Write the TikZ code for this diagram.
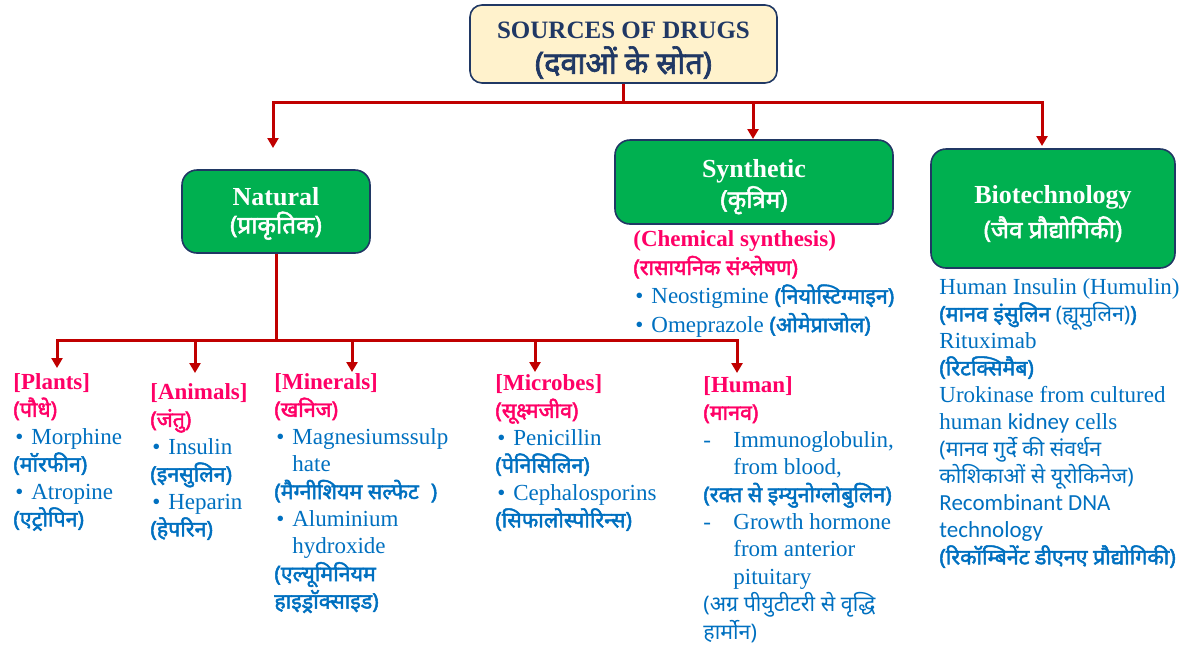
\documentclass[tikz,border=0pt]{standalone}
\usepackage{fontspec}
\setmainfont{Liberation Serif}
\newfontfamily\hin[Script=Devanagari,Scale=0.93]{Noto Sans}
\newfontfamily\hinb[Script=Devanagari,Scale=0.93,FakeBold=2.2]{Noto Sans}
\newfontfamily\calib{Carlito}
\usepackage{tikz}
\usetikzlibrary{arrows.meta}
\definecolor{drred}{HTML}{C00000}
\definecolor{drgreen}{HTML}{00B050}
\definecolor{drnavy}{HTML}{203864}
\definecolor{drpink}{HTML}{FF0066}
\definecolor{drblue}{HTML}{0070C0}
\definecolor{drcream}{HTML}{FFF2CC}
\setlength{\lineskiplimit}{-30pt}
\newcommand{\hb}[1]{{\hinb #1}}
\newcommand{\hr}[1]{{\hin #1}}
\newcommand{\hp}[1]{{\hinb\color{drpink}#1}}
\newcommand{\head}[1]{\rule{0pt}{10pt}{\color{drpink}\bfseries #1}}
\newcommand{\bul}{\hspace*{1pt}\makebox[8pt][l]{\textbullet}}
\newcommand{\ind}{\hspace*{9pt}}
\newcommand{\dsh}{\makebox[15pt][l]{-}}
\newcommand{\indh}{\hspace*{15pt}}
\newcommand{\lstfont}{\fontsize{11.5}{13.7}\selectfont}
\tikzset{
	titlestyle/.style={rectangle,rounded corners=6pt,draw=drnavy,line width=0.8pt,fill=drcream,text=drnavy,align=center,inner sep=1pt,minimum width=153.5pt,minimum height=39pt,font=\bfseries\fontsize{12.5}{17.5}\selectfont},
	boxstyle/.style={rectangle,rounded corners=7.5pt,draw=drnavy,line width=0.8pt,fill=drgreen,text=white,align=center,font=\bfseries\fontsize{13}{14}\selectfont},
	liststyle/.style={anchor=north west,inner sep=0pt,align=left,text=drblue,font=\lstfont},
	linestyle/.style={draw=drred,line width=1.5pt},
	arrowstyle/.style={linestyle,-{Triangle[width=5.5pt,length=5pt]}}
}

\begin{document}
\begin{tikzpicture}[x=0.5pt,y=-0.5pt]
	\useasboundingbox (0,0) rectangle (1182,644);
	\node[titlestyle] (title) at (623.5,44) {\rule{0pt}{14.75pt}SOURCES OF DRUGS\\{\fontsize{16.5}{17.5}\selectfont\hb{(दवाओं के स्रोत)}}};
	\node[boxstyle,minimum width=94pt,minimum height=41.5pt] (natural) at (276,211.5) {\rule{0pt}{11pt}Natural\\\hb{(प्राकृतिक)}};
	\node[boxstyle,minimum width=139pt,minimum height=42pt,font=\bfseries\fontsize{13}{15}\selectfont] (synthetic) at (754,182) {\rule{0pt}{14pt}Synthetic\\\hb{(कृत्रिम)}};
	\node[boxstyle,minimum width=122pt,minimum height=59.5pt,font=\bfseries\fontsize{13}{17.5}\selectfont] (biotech) at (1053,208.5) {\rule{0pt}{14pt}Biotechnology\\\hb{(जैव प्रौद्योगिकी)}};
	\node[liststyle,font=\fontsize{11.5}{14.3}\selectfont] (chemlist) at (633,226) {\head{(Chemical synthesis)}\\\hp{(रासायनिक संश्लेषण)}\\\bul Neostigmine \hb{(नियोस्टिग्माइन)}\\\bul Omeprazole \hb{(ओमेप्राजोल)}};
	\node[liststyle,font=\fontsize{11.5}{13.5}\selectfont] (biolist) at (939,274) {\rule{0pt}{10pt}Human Insulin (Humulin)\\\hb{(मानव इंसुलिन }\hr{(ह्यूमुलिन)}\hb{)}\\Rituximab\\\hb{(रिटक्सिमैब)}\\Urokinase from cultured\\human {\calib kidney} cells\\\hr{(मानव गुर्दे की संवर्धन}\\\hr{कोशिकाओं से यूरोकिनेज)}\\{\calib Recombinant DNA}\\{\calib technology}\\\hb{(रिकॉम्बिनेंट डीएनए प्रौद्योगिकी)}};
	\node[liststyle] (plants) at (13,369) {\head{[Plants]}\\\hp{(पौधे)}\\\bul Morphine\\\hb{(मॉरफीन)}\\\bul Atropine\\\hb{(एट्रोपिन)}};
	\node[liststyle] (animals) at (150,379) {\head{[Animals]}\\\hp{(जंतु)}\\\bul Insulin\\\hb{(इनसुलिन)}\\\bul Heparin\\\hb{(हेपरिन)}};
	\node[liststyle] (minerals) at (274,369) {\head{[Minerals]}\\\hp{(खनिज)}\\\bul Magnesiumssulp\\\ind hate\\\hb{(मैग्नीशियम सल्फेट\hspace{6pt})}\\\bul Aluminium\\\ind hydroxide\\\hb{(एल्यूमिनियम}\\\hb{हाइड्रॉक्साइड)}};
	\node[liststyle] (microbes) at (495,370) {\head{[Microbes]}\\\hp{(सूक्ष्मजीव)}\\\bul Penicillin\\\hb{(पेनिसिलिन)}\\\bul Cephalosporins\\\hb{(सिफालोस्पोरिन्स)}};
	\node[liststyle] (human) at (703,372) {\head{[Human]}\\\hp{(मानव)}\\\dsh Immunoglobulin,\\\indh from blood,\\\hb{(रक्त से इम्युनोग्लोबुलिन)}\\\dsh Growth hormone\\\indh from anterior\\\indh pituitary\\\hr{(अग्र पीयुटीटरी से वृद्धि}\\\hr{हार्मोन)}};
	\coordinate (tC) at (623.5,102);
	\coordinate (aNat) at (273,148);
	\coordinate (aSyn) at (753,139);
	\coordinate (aBio) at (1042,146);
	\coordinate (nC) at (276,340);
	\coordinate (aPla) at (57,368);
	\coordinate (aAni) at (195,373);
	\coordinate (aMin) at (352,372);
	\coordinate (aMic) at (535,372);
	\coordinate (aHum) at (737,373);
	\draw[linestyle] (title.south) -- (tC);
	\draw[arrowstyle] (tC) -| (aNat);
	\draw[arrowstyle] (tC) -| (aSyn);
	\draw[arrowstyle] (tC) -| (aBio);
	\draw[linestyle] (natural.south) -- (nC);
	\draw[arrowstyle] (nC) -| (aPla);
	\draw[arrowstyle] (nC) -| (aAni);
	\draw[arrowstyle] (nC) -| (aMin);
	\draw[arrowstyle] (nC) -| (aMic);
	\draw[arrowstyle] (nC) -| (aHum);
\end{tikzpicture}
\end{document}
